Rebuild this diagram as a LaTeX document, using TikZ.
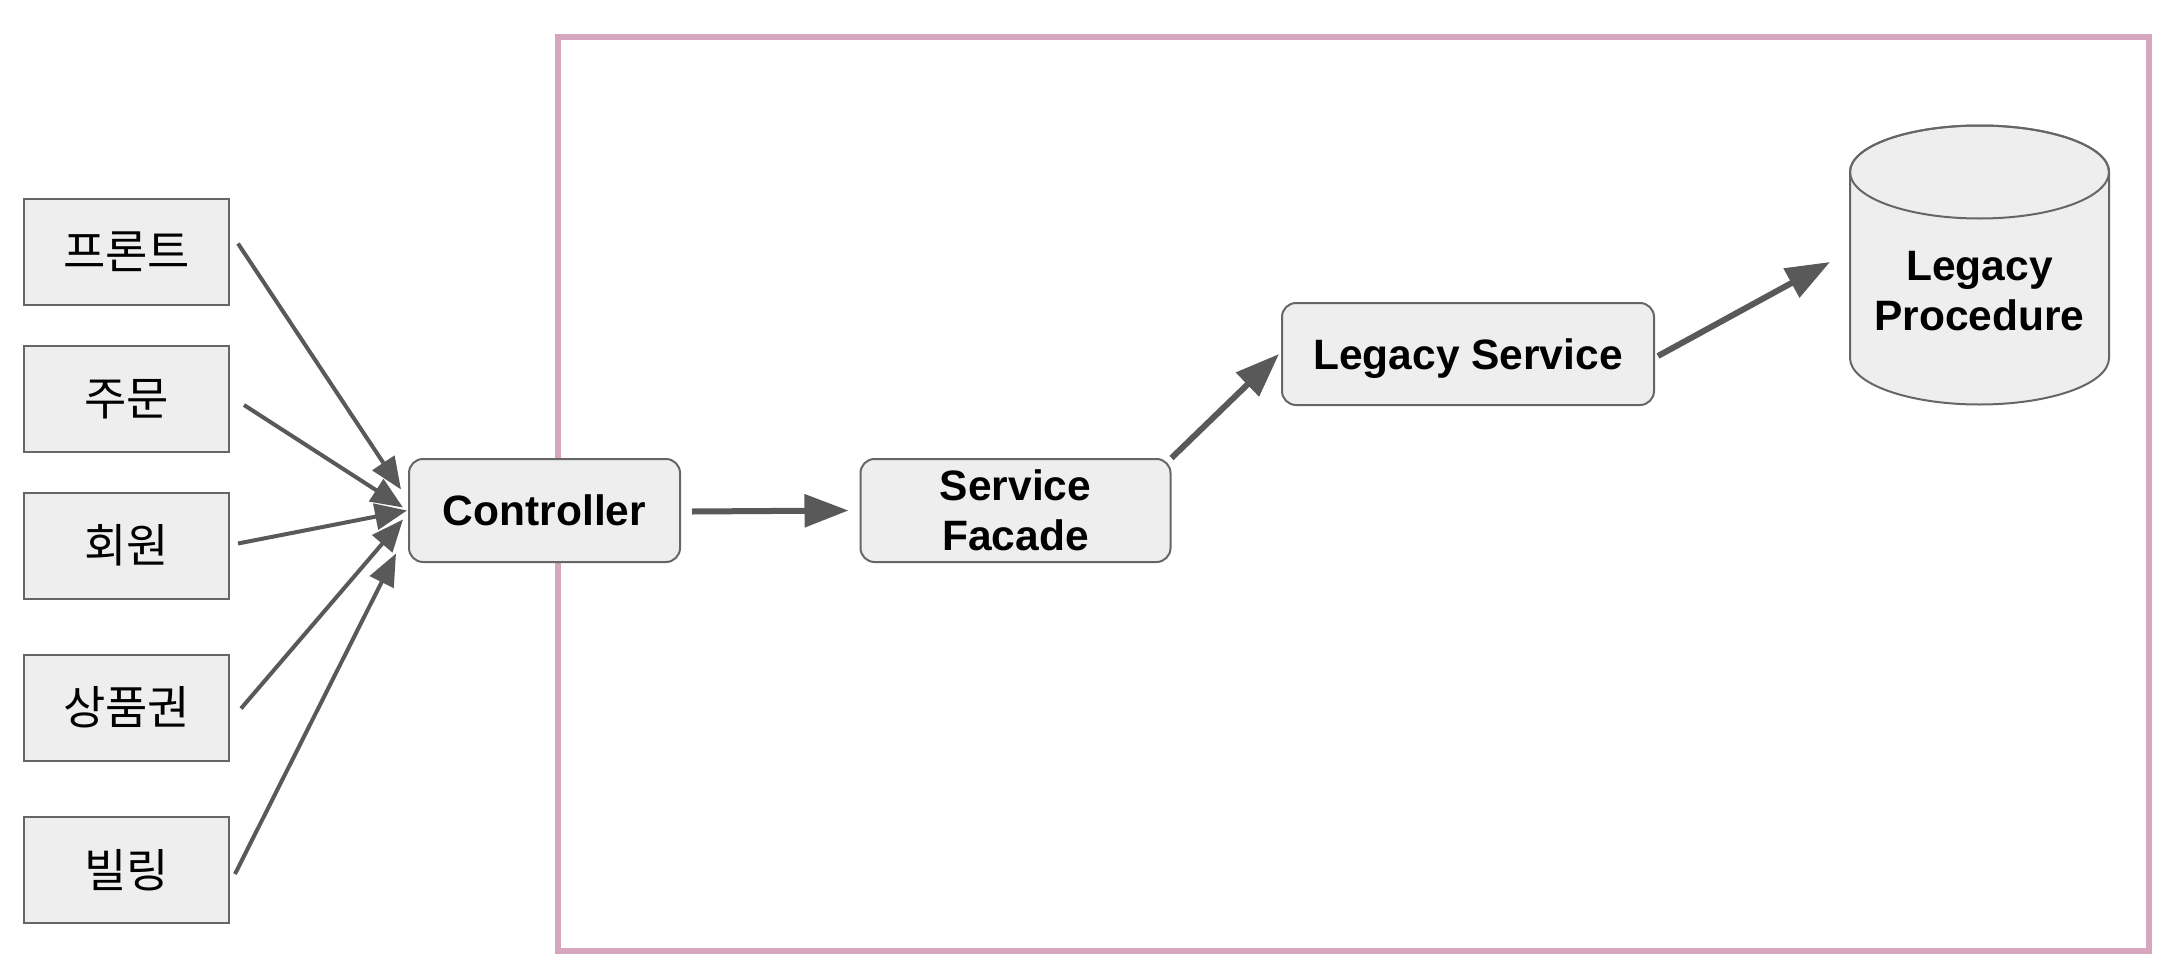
\documentclass[tikz,border=0pt]{standalone}
\usepackage{fontspec}
\setmainfont{Liberation Sans}
\newfontfamily\kor{Noto Sans CJK KR}
\usetikzlibrary{arrows.meta}
\definecolor{framepink}{HTML}{D5A6BD}
\definecolor{boxfill}{HTML}{EEEEEE}
\definecolor{boxline}{HTML}{666666}
\definecolor{arrowgray}{HTML}{595959}

\begin{document}
\begin{tikzpicture}[x=1pt, y=-1pt,
  client/.style={draw=boxline, fill=boxfill, line width=2pt, minimum width=205pt, minimum height=106pt, inner sep=0pt, font=\kor\fontsize{46}{54}\selectfont},
  module/.style={draw=boxline, fill=boxfill, line width=2pt, rounded corners=14pt, minimum height=103pt, inner sep=0pt, align=center, font=\bfseries\fontsize{42.5}{50}\selectfont},
  call/.style={draw=arrowgray, line width=4pt, -{Triangle[length=32pt,width=26pt]}},
  bigcall/.style={draw=arrowgray, line width=6pt, -{Triangle[length=44pt,width=32pt]}}]

\useasboundingbox (0,0) rectangle (2176,974);

\draw [framepink, line width=6pt] (558,37) rectangle (2149,951);

\node (front) at (126.5,251.5) [client] {프론트};
\node (order) at (126.5,399) [client] {주문};
\node (member) at (126.5,545.5) [client] {회원};
\node (voucher) at (126.5,707.5) [client] {상품권};
\node (billing) at (126.5,870) [client] {빌링};

\node (ctrl) at (544.5,510.5) [module, minimum width=271pt] {Controller};
\node (facade) at (1015.5,510.5) [module, minimum width=310pt] {Service\\Facade};
\node (legacy) at (1468,354) [module, minimum width=372pt, minimum height=102pt, text depth=0pt] {Legacy Service};

\path [fill=boxfill, draw=boxline, line width=2pt] (1850,172) -- (1850,358)
  arc [start angle=180, end angle=0, x radius=129.5, y radius=46.5]
  -- (2109,172)
  arc [start angle=0, end angle=-180, x radius=129.5, y radius=46.5] -- cycle;
\draw [boxline, line width=2pt] (1979.5,172) ellipse [x radius=129.5, y radius=46.5];
\node (proc) at (1979.5,291) [align=center, font=\bfseries\fontsize{42.5}{50}\selectfont] {Legacy\\Procedure};
\coordinate (procin) at (1830,262);

\draw [call] ([xshift=8pt,yshift=8pt]front.east) to ([xshift=-7pt,yshift=21pt]ctrl.west);
\draw [call] ([xshift=14pt,yshift=-6pt]order.east) to ([xshift=-5pt,yshift=3pt]ctrl.west);
\draw [call] ([xshift=8pt,yshift=2pt]member.east) to ([xshift=-1pt,yshift=0pt]ctrl.west);
\draw [call] ([xshift=11pt,yshift=-1pt]voucher.east) to ([xshift=-5pt,yshift=-9pt]ctrl.west);
\draw [call] ([xshift=5pt,yshift=-4pt]billing.east) to ([xshift=-12pt,yshift=-43pt]ctrl.west);

\draw [bigcall] ([xshift=11pt,yshift=-1pt]ctrl.east) to ([xshift=-11pt]facade.west);
\draw [bigcall] (facade.north east) to ([xshift=-2pt]legacy.west);
\draw [bigcall] ([xshift=3pt,yshift=-2pt]legacy.east) to (procin);

\end{tikzpicture}
\end{document}
